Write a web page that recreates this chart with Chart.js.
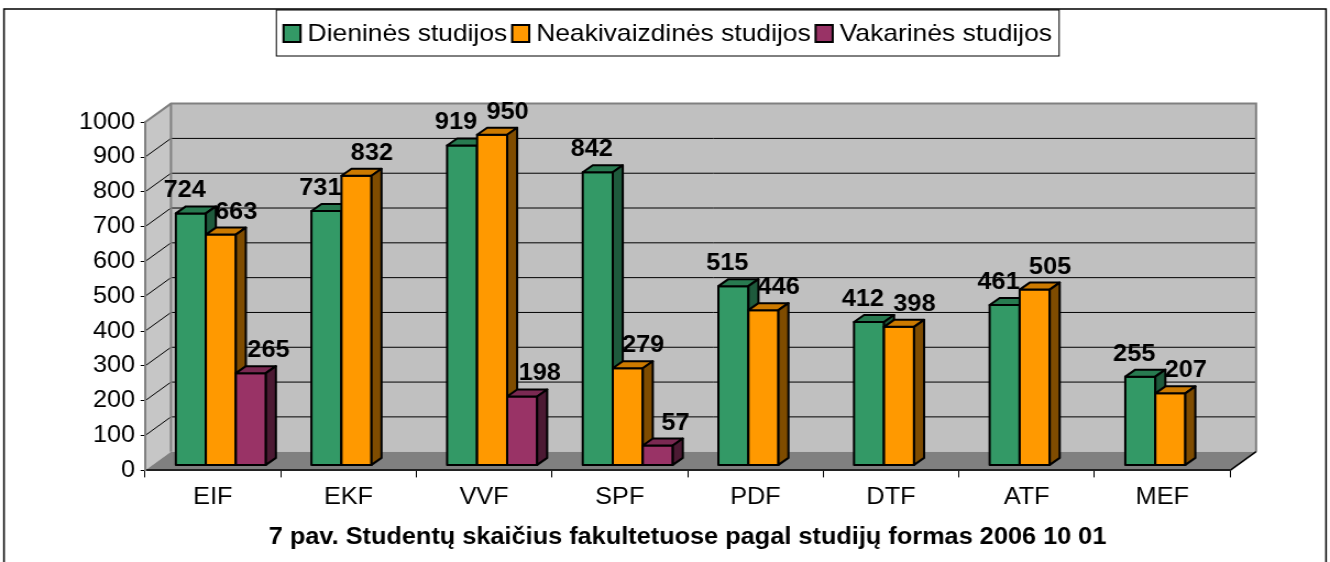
<!DOCTYPE html>
<html lang="lt">
<head>
<meta charset="UTF-8">
<title>Studentų skaičius fakultetuose</title>
<script src="https://cdn.jsdelivr.net/npm/chart.js"></script>
<style>
  html, body { margin: 0; padding: 0; background: #fff; }
  canvas { display: block; }
</style>
</head>
<body>
<!-- drawn at 1209 wide and stretched to 1330, like the original picture -->
<canvas id="chart" width="1209" height="562" style="width:1330px;height:562px"></canvas>
<script>
const faculties = ['EIF', 'EKF', 'VVF', 'SPF', 'PDF', 'DTF', 'ATF', 'MEF'];
const dieninesValues = [724, 731, 919, 842, 515, 412, 461, 255];
const neakivaizdinesValues = [663, 832, 950, 279, 446, 398, 505, 207];
const vakarinesValues = [265, null, 198, 57, null, null, null, null];
const seriesNames = ['Dieninės studijos', 'Neakivaizdinės studijos', 'Vakarinės studijos'];
const yMin = 0, yMax = 1000, yStep = 100;
const chartTitle = '7 pav. Studentų skaičius fakultetuose pagal studijų formas 2006 10 01';

// colours: front face, top face, side face
const FRONT = ['#339966', '#ff9900', '#993366'];
const TOP = ['#287a50', '#cc7a00', '#7a2952'];
const SIDE = ['#1e5a3c', '#7f4c00', '#4c1a33'];

const FONT = "'Liberation Sans', Arial, sans-serif";
const WALL_DX = 23.6, WALL_DY = -18.7;    // depth of the walls / floor
const BAR_SHIFT_X = 7.3, BAR_SHIFT_Y = -5; // bars stand a bit behind the front axis
const BAR_DX = 9.1, BAR_DY = -7;          // depth of one bar
const LABEL_SHIFT = [-5.5, 14, 16];       // value labels sit left / right of the bar top

function poly(ctx, pts) {
  ctx.beginPath();
  ctx.moveTo(pts[0][0], pts[0][1]);
  for (let i = 1; i < pts.length; i++) ctx.lineTo(pts[i][0], pts[i][1]);
  ctx.closePath();
}

function line(ctx, x1, y1, x2, y2) {
  ctx.beginPath();
  ctx.moveTo(x1, y1);
  ctx.lineTo(x2, y2);
  ctx.stroke();
}

const excel3d = {
  id: 'excel3d',
  beforeDraw(chart) {
    const {ctx, chartArea: a, scales: {y}} = chart;
    const L = a.left, R = a.right;
    const T = y.getPixelForValue(yMax), B = y.getPixelForValue(yMin);
    ctx.save();
    ctx.fillStyle = '#fff';
    ctx.fillRect(0, 0, chart.width, chart.height);
    ctx.strokeStyle = '#000';
    ctx.lineWidth = 1.5;
    ctx.strokeRect(3.6, 9, 1201.8, 600);

    // side wall, back wall, floor
    ctx.fillStyle = '#c6c6c6';
    poly(ctx, [[L, T], [L + WALL_DX, T + WALL_DY], [L + WALL_DX, B + WALL_DY], [L, B]]);
    ctx.fill();
    ctx.fillStyle = '#c0c0c0';
    ctx.fillRect(L + WALL_DX, T + WALL_DY, R - L, B - T);
    ctx.fillStyle = '#808080';
    poly(ctx, [[L, B], [R, B], [R + WALL_DX, B + WALL_DY], [L + WALL_DX, B + WALL_DY]]);
    ctx.fill();

    // grid lines on both walls
    ctx.strokeStyle = '#000';
    ctx.lineWidth = 1;
    y.ticks.forEach(t => {
      if (t.value <= yMin || t.value >= yMax) return;
      const yy = y.getPixelForValue(t.value);
      line(ctx, L, yy, L + WALL_DX, yy + WALL_DY);
      line(ctx, L + WALL_DX, yy + WALL_DY, R + WALL_DX, yy + WALL_DY);
    });

    // wall edges
    ctx.strokeStyle = '#808080';
    ctx.lineWidth = 2;
    ctx.beginPath();
    ctx.moveTo(L, T);
    ctx.lineTo(L + WALL_DX, T + WALL_DY);
    ctx.lineTo(R + WALL_DX, T + WALL_DY);
    ctx.lineTo(R + WALL_DX, B + WALL_DY);
    ctx.stroke();
    line(ctx, L + WALL_DX, T + WALL_DY, L + WALL_DX, B + WALL_DY);
    ctx.strokeStyle = '#000';
    ctx.lineWidth = 1.5;
    line(ctx, R, B, R + WALL_DX, B + WALL_DY);
    ctx.restore();
  },

  // draw the columns ourselves, series after series inside each group,
  // so that every column hides the side of its left neighbour
  beforeDatasetsDraw(chart) {
    const {ctx} = chart;
    ctx.save();
    ctx.translate(BAR_SHIFT_X, BAR_SHIFT_Y);
    ctx.strokeStyle = '#000';
    ctx.lineWidth = 2;
    ctx.lineJoin = 'round';
    faculties.forEach((f, j) => {
      chart.data.datasets.forEach((ds, i) => {
        if (ds.data[j] == null) return;
        const bar = chart.getDatasetMeta(i).data[j];
        const {x, y, base, width} = bar.getProps(['x', 'y', 'base', 'width'], true);
        const l = x - width / 2, r = x + width / 2;
        ctx.fillStyle = FRONT[i];
        ctx.fillRect(l, y, width, base - y);
        ctx.strokeRect(l, y, width, base - y);
        poly(ctx, [[l, y], [l + BAR_DX, y + BAR_DY], [r + BAR_DX, y + BAR_DY], [r, y]]);
        ctx.fillStyle = TOP[i];
        ctx.fill();
        ctx.stroke();
        poly(ctx, [[r, y], [r + BAR_DX, y + BAR_DY], [r + BAR_DX, base + BAR_DY], [r, base]]);
        ctx.fillStyle = SIDE[i];
        ctx.fill();
        ctx.stroke();
      });
    });
    ctx.restore();
    return false;
  },

  afterDraw(chart) {
    const {ctx} = chart;
    ctx.save();
    // value labels
    ctx.font = `bold 23px ${FONT}`;
    ctx.fillStyle = '#000';
    ctx.textAlign = 'center';
    ctx.textBaseline = 'alphabetic';
    chart.data.datasets.forEach((ds, i) => {
      chart.getDatasetMeta(i).data.forEach((bar, j) => {
        if (ds.data[j] == null) return;
        ctx.fillText(String(ds.data[j]), bar.x + BAR_SHIFT_X + LABEL_SHIFT[i], bar.y + BAR_SHIFT_Y - 16);
      });
    });

    // legend in a framed box
    ctx.font = `24px ${FONT}`;
    ctx.textAlign = 'left';
    ctx.textBaseline = 'middle';
    const box = 15.5, gapText = 6.4, gapItem = 4.5;
    const widths = chart.data.datasets.map(ds => ctx.measureText(ds.label).width);
    const total = widths.reduce((s, w) => s + box + gapText + w, 0) + gapItem * (widths.length - 1);
    let x = chart.width / 2 + 2.5 - total / 2;
    ctx.strokeStyle = '#000';
    ctx.lineWidth = 1;
    ctx.strokeRect(x - 6.5, 10, total + 13, 46);
    ctx.lineWidth = 2;
    chart.data.datasets.forEach((ds, i) => {
      ctx.fillStyle = FRONT[i];
      ctx.fillRect(x, 25, box, 17);
      ctx.strokeRect(x, 25, box, 17);
      ctx.fillStyle = '#000';
      ctx.fillText(ds.label, x + box + gapText, 34);
      x += box + gapText + widths[i] + gapItem;
    });
    ctx.restore();
  }
};

new Chart(document.getElementById('chart'), {
  type: 'bar',
  data: {
    labels: faculties,
    datasets: [
      { label: seriesNames[0], data: dieninesValues, backgroundColor: FRONT[0] },
      { label: seriesNames[1], data: neakivaizdinesValues, backgroundColor: FRONT[1] },
      { label: seriesNames[2], data: vakarinesValues, backgroundColor: FRONT[2] }
    ]
  },
  options: {
    responsive: false,
    animation: false,
    devicePixelRatio: 1,
    layout: { padding: { top: 122.3, right: 90.8, bottom: 0, left: 0 } },
    datasets: { bar: { categoryPercentage: 0.664, barPercentage: 1 } },
    scales: {
      x: {
        grid: { drawOnChartArea: false, tickLength: 7, color: '#000', offset: true },
        border: { color: '#202020', width: 2 },
        ticks: { font: { family: FONT, size: 23 }, color: '#000', padding: 6 },
        afterFit(scale) { scale.height = 48; }
      },
      y: {
        min: yMin,
        max: yMax,
        grid: { drawOnChartArea: false, tickLength: 4, color: '#000' },
        border: { color: '#808080', width: 2 },
        ticks: {
          stepSize: yStep,
          font: { family: FONT, size: 23 },
          color: '#000',
          padding: 5,
          callback: v => String(v)
        },
        afterFit(scale) { scale.width = 131.8; }
      }
    },
    plugins: {
      legend: { display: false },
      tooltip: { enabled: false },
      title: {
        display: true,
        position: 'bottom',
        fullSize: false,
        text: chartTitle,
        color: '#000',
        font: { family: FONT, size: 23, weight: 'bold' },
        padding: { top: 5, bottom: 11 }
      }
    }
  },
  plugins: [excel3d]
});
</script>
</body>
</html>
